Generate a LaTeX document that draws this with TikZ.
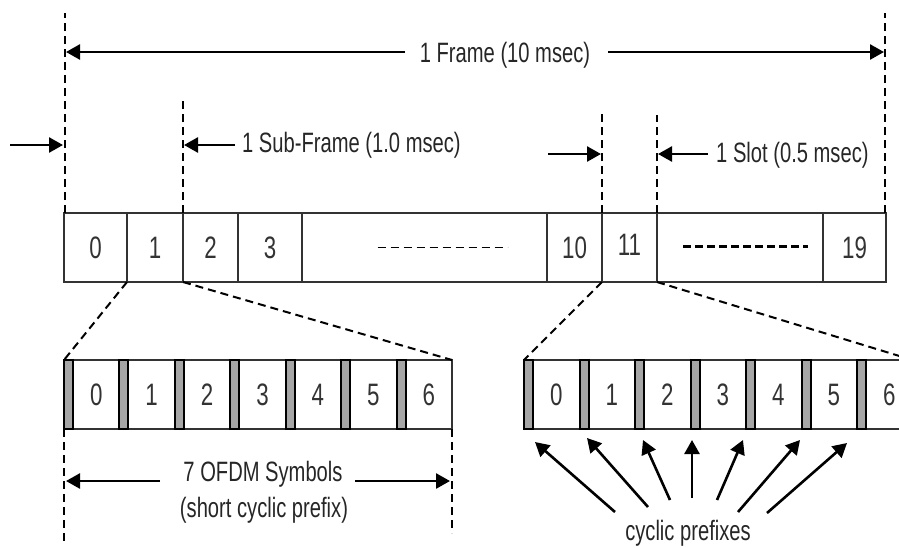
\documentclass[tikz,border=0pt]{standalone}
\usepackage{fontspec}
\setmainfont{Liberation Sans}[FakeStretch=0.72]
\usetikzlibrary{arrows.meta,calc}
\begin{document}
\begin{tikzpicture}[x=1pt,y=-1pt,
  dim/.style={dash pattern=on 8pt off 5pt, line width=2pt},
  arr/.style={line width=2.6pt, -{Triangle[length=14pt,width=15pt]}},
  cell/.style={draw=black!80, line width=2pt, minimum height=69pt, inner sep=0pt, outer sep=0pt, text=black!80, font=\fontsize{31}{31}\selectfont},
  cp/.style={draw=black, fill=black!35, line width=2pt, minimum width=9pt, minimum height=69pt, inner sep=0pt, outer sep=0pt},
  lbl/.style={font=\fontsize{28}{30}\selectfont, text=black!85, inner sep=0pt}]
\useasboundingbox (0,0) rectangle (899,547);
\clip (0,0) rectangle (899,547);
% frame cells
\foreach \l/\r/\t/\n in {64/127/0/f0, 127/183/1/f1, 183/238/2/f2, 238/302/3/f3, 302/547//fa, 547/602/10/f10, 602/657/{\raisebox{5pt}{11}}/f11, 657/823//fb, 823/886/19/f19}
  \node[cell, minimum width={\r-\l}, anchor=west] (\n) at (\l,247.5) {\t};
\draw[line width=1.6pt, dash pattern=on 8pt off 5pt] ($(fa.center)+(-47,0)$) -- ($(fa.center)+(83,0)$);
\draw[line width=3pt, dash pattern=on 8pt off 4pt] ($(fb.center)+(-57,-1)$) -- ($(fb.center)+(68,-1)$);
% slots
\foreach \i in {0,...,6} {
  \pgfmathsetmacro\a{64+55.43*\i}
  \node[cell, anchor=west, minimum width=55.43] (ls\i) at (\a,394.5) {\hspace*{9pt}\i};
  \node[cp, anchor=west] (lc\i) at (\a,394.5) {};
  \pgfmathsetmacro\b{524+55.5*\i}
  \node[cell, anchor=west, minimum width=55.5] (rs\i) at (\b,394.5) {\hspace*{9pt}\i};
  \node[cp, anchor=west] (rc\i) at (\b,394.5) {};
}
% zoom lines
\draw[dim] (f1.south west) -- (lc0.north west);
\draw[dim] (f1.south east) -- (ls6.north east);
\draw[dim] (f11.south west) -- (rc0.north west);
\draw[dim] (f11.south east) -- (rs6.north east);
% vertical dashed guides
\draw[dim] ([xshift=1pt]f0.north west) -- ++(0,-200);
\draw[dim] ([xshift=-1pt]f19.north east) -- ++(0,-200);
\draw[dim] (f2.north west) -- ++(0,-116);
\draw[dim] (f11.north west) -- ++(0,-100);
\draw[dim] (f11.north east) -- ++(0,-98);
\draw[dim] (lc0.south west) -- ++(0,116);
\draw[dim] (ls6.south east) -- ++(0,104);
% labels
\node[lbl] (fl) at (505,55) {1 Frame (10 msec)};
\coordinate (fla) at (405,52);
\coordinate (flb) at (608,52);
\draw[arr] (fla) -- ([xshift=2pt]f0.north west |- fla);
\draw[arr] (flb) -- ([xshift=-2pt]f19.north east |- flb);
\node[lbl, anchor=west] (sfl) at (242,145) {1 Sub-Frame (1.0 msec)};
\coordinate (sfa) at (10,145);
\coordinate (sfb) at (235,145);
\draw[arr] (sfa) -- ([xshift=-1pt]f0.north west |- sfa);
\draw[arr] (sfb) -- ([xshift=1pt]f2.north west |- sfb);
\node[lbl, anchor=west] (sll) at (716,155) {1 Slot (0.5 msec)};
\coordinate (sla) at (548,154);
\coordinate (slb) at (708,154);
\draw[arr] (sla) -- ([xshift=-1pt]f11.north west |- sla);
\draw[arr] (slb) -- ([xshift=1pt]f11.north east |- slb);
\node[lbl] (ofdm) at (263,474) {7 OFDM Symbols};
\node[lbl] (scp) at (264,510) {(short cyclic prefix)};
\coordinate (oa) at (160,481);
\coordinate (ob) at (355,481);
\draw[arr] (oa) -- ([xshift=2pt]lc0.south west |- oa);
\draw[arr] (ob) -- ([xshift=-2pt]ls6.south east |- ob);
\node[lbl] (cpl) at (688,533) {cyclic prefixes};
\foreach \tx/\ty/\hx/\hy [count=\k] in {615/512/535/442, 648/507/587/438, 670/500/643/440, 692/498/692/440, 717/500/743/440, 738/512/800/440, 767/513/847/443} {
  \coordinate (t\k) at (\tx,\ty);
  \coordinate (h\k) at (\hx,\hy);
  \draw[arr] (t\k) -- (h\k);
}
\end{tikzpicture}
\end{document}
